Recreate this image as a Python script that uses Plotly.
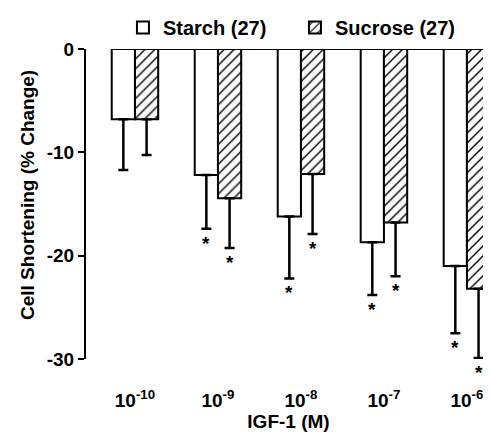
import plotly.graph_objects as go

doses = ["10<sup>-10</sup>", "10<sup>-9</sup>", "10<sup>-8</sup>", "10<sup>-7</sup>", "10<sup>-6</sup>"]
starch = [-6.8, -12.2, -16.2, -18.7, -21.0]
starch_err = [4.9, 5.2, 6.0, 5.1, 6.5]
sucrose = [-6.8, -14.45, -12.1, -16.8, -23.2]
sucrose_err = [3.45, 4.8, 5.8, 5.2, 6.7]
starch_sig = [False, True, True, True, True]
sucrose_sig = [False, True, True, True, True]

FONT = "Liberation Sans"
FS = 19
W = 0.28
xs = list(range(len(doses)))
bold = dict(family=FONT, size=FS, color="black", weight="bold")

fig = go.Figure()
fig.add_trace(go.Bar(
    x=xs, y=starch, name="Starch (27)", width=W, offset=-W,
    marker=dict(color="white", line=dict(color="black", width=2)),
    error_y=dict(type="data", symmetric=False, array=[0]*5, arrayminus=starch_err,
                 color="black", thickness=2.5, width=5),
))
fig.add_trace(go.Bar(
    x=xs, y=sucrose, name="Sucrose (27)", width=W, offset=0,
    marker=dict(color="white", line=dict(color="black", width=2),
                pattern=dict(shape="/", fgcolor="black", bgcolor="white", fgopacity=1,
                             size=7, solidity=0.2)),
    error_y=dict(type="data", symmetric=False, array=[0]*5, arrayminus=sucrose_err,
                 color="black", thickness=2.5, width=5),
))

# significance asterisks below error bars
for i in xs:
    marks = []
    if starch_sig[i]:
        marks.append((i - W / 2, starch[i] - starch_err[i]))
    if sucrose_sig[i]:
        marks.append((i + W / 2, sucrose[i] - sucrose_err[i]))
    for mx, my in marks:
        fig.add_annotation(x=mx, y=my, text="*", showarrow=False, xref="x", yref="y",
                           yanchor="top", yshift=-2,
                           font=dict(family=FONT, size=FS, color="black"))

# y-axis title
fig.add_annotation(text="Cell Shortening (% Change)", xref="paper", yref="paper",
                   x=0, y=0.5, xanchor="center", yanchor="middle", xshift=-59, yshift=9,
                   textangle=-90, showarrow=False, font=bold)

xr = [-0.59, 4.29]
fig.add_shape(type="line", xref="x", yref="y", x0=-W, x1=xr[1], y0=0, y1=0,
              line=dict(color="black", width=2))

fig.update_layout(
    width=483, height=424,
    margin=dict(l=78, r=0, t=41, b=73, autoexpand=False),
    paper_bgcolor="white", plot_bgcolor="white",
    font=bold,
    barmode="overlay",
    showlegend=True,
    legend=dict(orientation="h", x=0.238, y=1.0, xref="container", yref="container",
                xanchor="left", yanchor="top",
                font=dict(family=FONT, size=20, color="black", weight="bold"),
                traceorder="normal", bgcolor="rgba(0,0,0,0)",
                entrywidth=127, entrywidthmode="pixels"),
    xaxis=dict(range=xr, tickvals=xs, ticktext=doses, showline=False, showgrid=False,
               zeroline=False, ticks="", ticklabelstandoff=28, automargin=False,
               tickfont=bold,
               title=dict(text="IGF-1 (M)", standoff=3, font=bold)),
    yaxis=dict(range=[-30, 0], tickvals=[0, -10, -20, -30], ticktext=["0", "-10", "-20", "-30"],
               showline=True, linecolor="black", linewidth=2, ticks="outside", ticklen=6,
               tickwidth=2, tickcolor="black", showgrid=False, zeroline=False,
               automargin=False, tickfont=bold),
)
fig.write_html("out.html")
